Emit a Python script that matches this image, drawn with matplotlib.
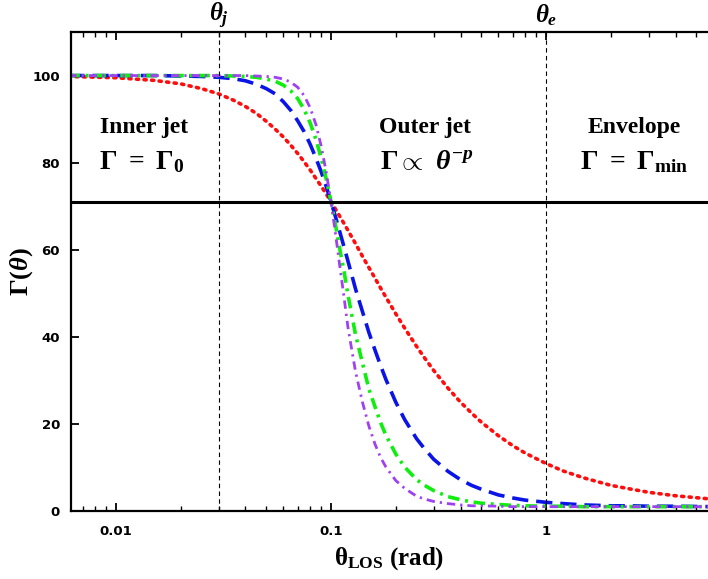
import matplotlib
matplotlib.use("Agg")
import matplotlib.pyplot as plt
from matplotlib.ticker import FixedLocator, LogLocator, NullFormatter, FixedFormatter

plt.rcParams['mathtext.fontset'] = 'custom'
plt.rcParams['mathtext.rm'] = 'Liberation Serif:bold'
plt.rcParams['mathtext.bf'] = 'Liberation Serif:bold'
plt.rcParams['mathtext.it'] = 'Liberation Serif:italic:bold'

# viewing angle grid (rad) and Lorentz factor
theta = [0.006, 0.01, 0.015, 0.02, 0.025, 0.03, 0.035, 0.04, 0.045, 0.05,
         0.055, 0.06, 0.065, 0.07, 0.075, 0.08, 0.085, 0.09, 0.095, 0.1,
         0.105, 0.11, 0.115, 0.12, 0.13, 0.14, 0.15, 0.16, 0.17, 0.18,
         0.2, 0.22, 0.25, 0.27, 0.3, 0.35, 0.4, 0.45, 0.5, 0.6,
         0.7, 0.8, 1.0, 1.2, 1.5, 2.0, 2.5, 3.0, 4.0, 6.0]
gamma_red = [99.8, 99.5, 98.9, 98.1, 97.0, 95.8, 94.4, 92.9, 91.3, 89.5,
             87.7, 85.9, 84.0, 82.1, 80.2, 78.3, 76.4, 74.6, 72.8, 71.0,
             69.3, 67.6, 66.0, 64.4, 61.4, 58.5, 55.9, 53.5, 51.2, 49.1,
             45.3, 42.0, 37.8, 35.4, 32.3, 28.2, 25.0, 22.5, 20.4, 17.3,
             15.0, 13.3, 10.9, 9.2, 7.6, 5.9, 5.0, 4.3, 3.5, 2.7]
gamma_blue = [100.0, 100.0, 100.0, 99.9, 99.8, 99.6, 99.3, 98.8, 98.0, 97.0,
              95.8, 94.0, 92.0, 89.6, 87.1, 84.2, 81.1, 77.9, 74.5, 71.0,
              67.5, 64.0, 60.6, 57.3, 51.0, 45.8, 41.0, 37.0, 33.4, 30.2,
              25.0, 21.0, 16.6, 14.5, 11.9, 9.1, 7.2, 5.9, 5.0, 3.7,
              3.0, 2.5, 2.0, 1.7, 1.4, 1.2, 1.2, 1.1, 1.1, 1.0]
gamma_green = [100.0, 100.0, 100.0, 100.0, 100.0, 100.0, 99.9, 99.8, 99.6, 99.2,
               98.7, 97.8, 96.5, 94.7, 92.2, 89.1, 85.4, 81.0, 76.2, 71.0,
               65.6, 60.0, 55.0, 49.5, 40.5, 34.0, 28.0, 24.0, 20.3, 17.4,
               13.1, 10.1, 7.2, 6.0, 4.7, 3.3, 2.6, 2.1, 1.8, 1.5,
               1.3, 1.2, 1.1, 1.1, 1.0, 1.0, 1.0, 1.0, 1.0, 1.0]
gamma_purple = [100.0, 100.0, 100.0, 100.0, 100.0, 100.0, 100.0, 100.0, 99.9, 99.8,
                99.6, 99.2, 98.5, 97.3, 95.4, 92.6, 88.8, 83.8, 77.8, 71.0,
                63.5, 56.0, 49.0, 42.0, 32.0, 25.0, 19.5, 15.4, 12.3, 10.1,
                7.0, 5.2, 3.4, 2.8, 2.2, 1.7, 1.4, 1.2, 1.2, 1.1,
                1.0, 1.0, 1.0, 1.0, 1.0, 1.0, 1.0, 1.0, 1.0, 1.0]

gamma_half = 71.0
theta_j = 0.03
theta_e = 1.0

xticks = [0.01, 0.1, 1]
xticklabels = ['0.01', '0.1', '1']
yticks = [0, 20, 40, 60, 80, 100]

fig = plt.figure(figsize=(7.08, 5.79), dpi=100)
ax = fig.add_axes([0.1003, 0.1174, 0.8997, 0.8273])

# curves
ax.plot(theta, gamma_red, color='#ff0d0d', lw=2.6, linestyle=(0, (0.6, 1.5)),
        dash_capstyle='round')
ax.plot(theta, gamma_blue, color='#0a14e6', lw=2.6, linestyle=(0, (4.5, 2.2)))
ax.plot(theta, gamma_green, color='#10ee10', lw=2.6, linestyle=(0, (3.2, 1.6, 0.8, 1.6)))
ax.plot(theta, gamma_purple, color='#a040f0', lw=2.0, linestyle=(0, (3.0, 1.8, 0.8, 1.8)))

# half-value line and region boundaries
ax.axhline(gamma_half, color='black', lw=2.2)
ax.axvline(theta_j, color='black', lw=0.8, linestyle=(0, (4, 3)))
ax.axvline(theta_e, color='black', lw=0.8, linestyle=(0, (4, 3)))

ax.set_xscale('log')
ax.set_xlim(0.00618, 5.66)
ax.set_ylim(0, 110)

ax.xaxis.set_major_locator(FixedLocator(xticks))
ax.xaxis.set_major_formatter(FixedFormatter(xticklabels))
ax.xaxis.set_minor_locator(LogLocator(base=10, subs=range(2, 10)))
ax.xaxis.set_minor_formatter(NullFormatter())
ax.set_yticks(yticks)

ax.tick_params(axis='both', which='major', direction='in', length=6, width=1.3,
               labelsize=9.5, top=True, right=False, pad=8)
ax.tick_params(axis='x', which='minor', direction='in', length=3.5, width=1.0, top=True)
for lab in ax.get_xticklabels() + ax.get_yticklabels():
    lab.set_fontweight('semibold')
ax.tick_params(axis='x', which='major', pad=10)

for side in ['left', 'bottom', 'top']:
    ax.spines[side].set_linewidth(1.6)
ax.spines['right'].set_visible(False)

# region labels
ax.text(0.0135, 88, 'Inner jet', ha='center', va='center', family='Liberation Serif',
        fontweight='bold', fontsize=17)
ax.text(0.0132, 80.3, r'$\mathbf{\Gamma\ =\ \Gamma_0}$', ha='center', va='center', fontsize=20)
ax.text(0.2735, 88, 'Outer jet', ha='center', va='center', family='Liberation Serif',
        fontweight='bold', fontsize=17)
ax.text(0.28, 80.3, r'$\mathbf{\Gamma \propto}\ \theta^{-p}$', ha='center', va='center', fontsize=20)
ax.text(2.56, 88, 'Envelope', ha='center', va='center', family='Liberation Serif',
        fontweight='bold', fontsize=17)
ax.text(2.58, 80.3, r'$\mathbf{\Gamma\ =\ \Gamma_{min}}$', ha='center', va='center', fontsize=20)

# boundary labels above the frame
ax.text(theta_j, 113.8, r'$\theta_j$', ha='center', va='center', fontsize=18)
ax.text(theta_e, 113.8, r'$\theta_e$', ha='center', va='center', fontsize=18)

ax.set_ylabel(r'$\mathbf{\Gamma(}\theta\mathbf{)}$', fontsize=19, labelpad=-2)
ax.set_xlabel(r'$\mathbf{\theta_{LOS}}$ (rad)', family='Liberation Serif', fontweight='bold',
              fontsize=18, labelpad=5)

fig.savefig('out.png', dpi=100)
